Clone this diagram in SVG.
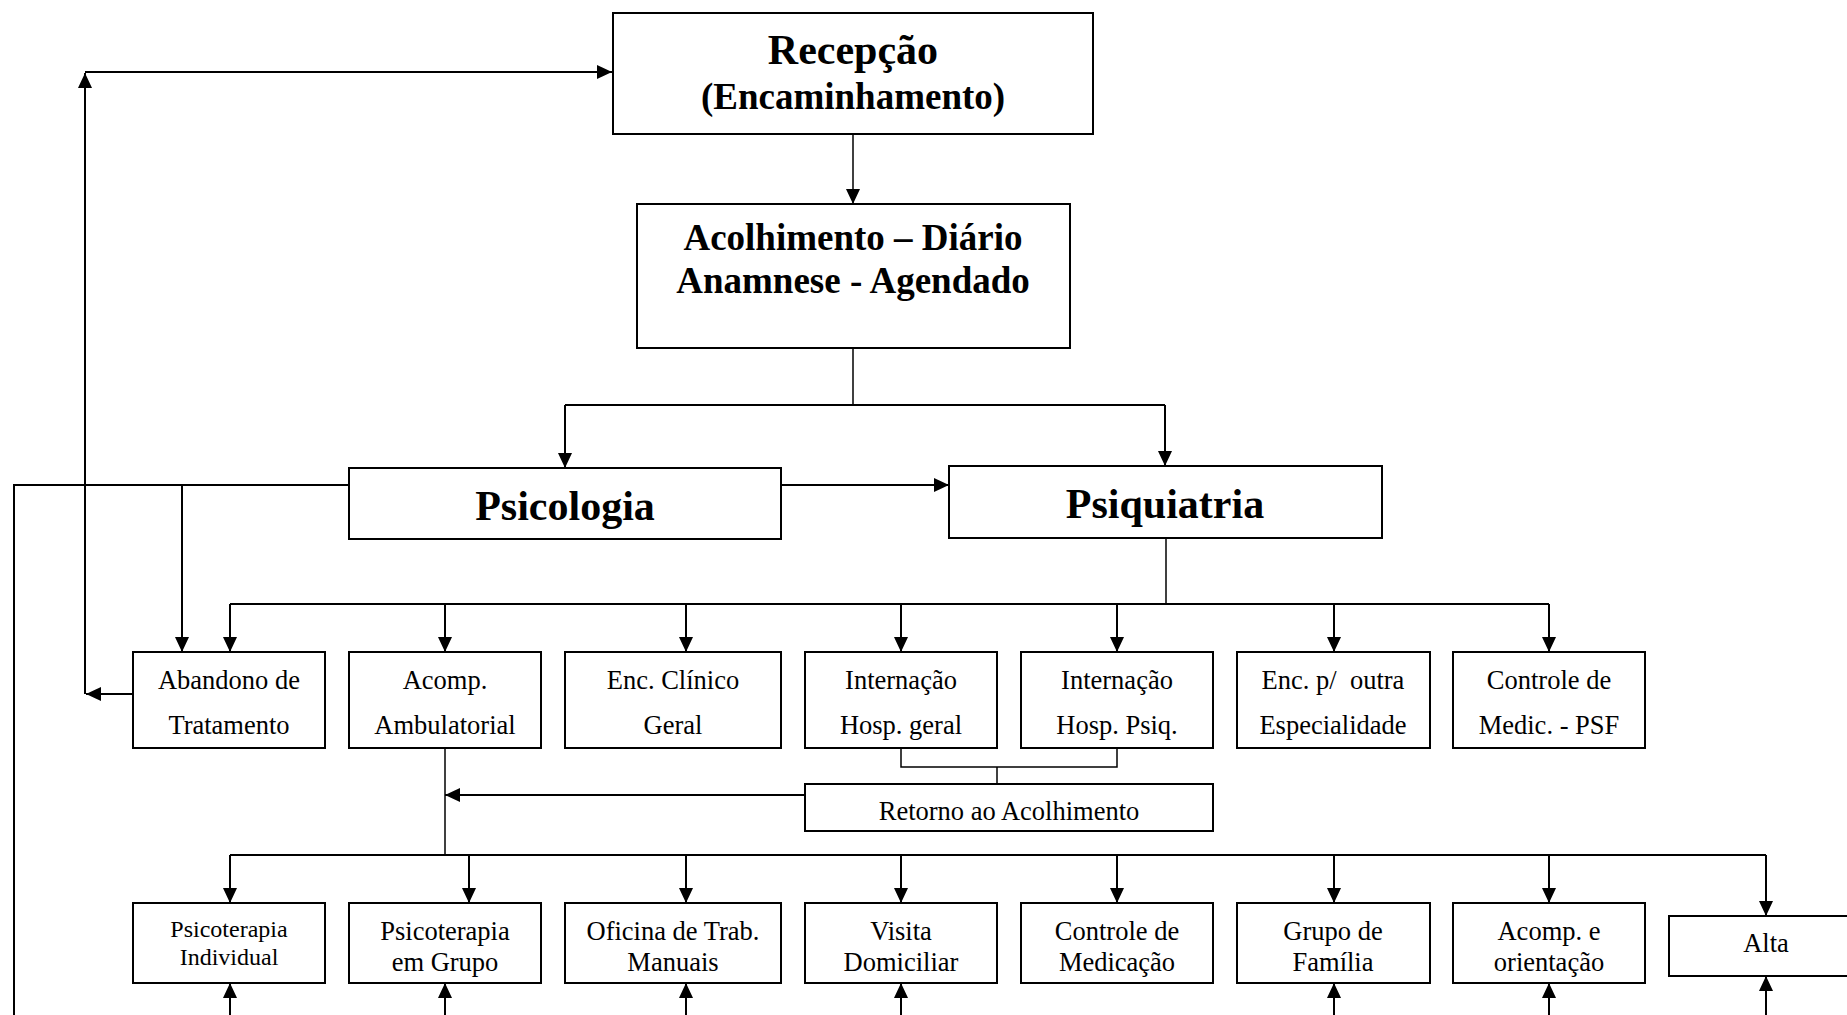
<svg xmlns="http://www.w3.org/2000/svg" width="1847" height="1015" viewBox="0 0 1847 1015">
<style>
.box{fill:#fff;stroke:#000;stroke-width:2}
.ln{fill:none;stroke:#000;stroke-width:2}
.thin{fill:none;stroke:#000;stroke-width:1.5}
.arr{marker-end:url(#ah)}
text{font-family:"Liberation Serif","Times New Roman",serif;fill:#000;text-anchor:middle}
.h1{font-size:42px;font-weight:bold}
.h2{font-size:37px;font-weight:bold}
.t{font-size:26.5px}
.s{font-size:24px}
</style>
<defs>
<marker id="ah" markerUnits="userSpaceOnUse" markerWidth="15" markerHeight="14" refX="15" refY="7" orient="auto">
<path d="M0,0 L15,7 L0,14 z" fill="#000"/>
</marker>
</defs>
<rect width="1847" height="1015" fill="#fff"/>
<g id="connectors">
<path class="ln arr" d="M85,72 H612"/>
<path class="ln arr" d="M85,694 V73"/>
<path class="ln arr" d="M133,694 H86"/>
<path class="thin arr" d="M853,134 V204"/>
<path class="thin" d="M853,348 V405"/>
<path class="ln" d="M565,405 H1165"/>
<path class="ln arr" d="M565,405 V468"/>
<path class="ln arr" d="M1165,405 V466"/>
<path class="ln arr" d="M781,485 H949"/>
<path class="ln" d="M14,1015 V485 H349"/>
<path class="ln arr" d="M182,485 V652"/>
<path class="thin" d="M1166,538 V604"/>
<path class="ln" d="M230,604 H1549"/>
<path class="ln arr" d="M230,604 V652"/>
<path class="ln arr" d="M445,604 V652"/>
<path class="ln arr" d="M686,604 V652"/>
<path class="ln arr" d="M901,604 V652"/>
<path class="ln arr" d="M1117,604 V652"/>
<path class="ln arr" d="M1334,604 V652"/>
<path class="ln arr" d="M1549,604 V652"/>
<path class="thin" d="M901,748 V767 H1117 V748"/>
<path class="thin" d="M997,767 V784"/>
<path class="ln arr" d="M805,795 H445"/>
<path class="thin" d="M445,748 V855"/>
<path class="ln" d="M230,855 H1766"/>
<path class="ln arr" d="M230,855 V903"/>
<path class="ln arr" d="M469,855 V903"/>
<path class="ln arr" d="M686,855 V903"/>
<path class="ln arr" d="M901,855 V903"/>
<path class="ln arr" d="M1117,855 V903"/>
<path class="ln arr" d="M1334,855 V903"/>
<path class="ln arr" d="M1549,855 V903"/>
<path class="ln arr" d="M1766,855 V916"/>
<path class="ln arr" d="M230,1015 V983"/>
<path class="ln arr" d="M445,1015 V983"/>
<path class="ln arr" d="M686,1015 V983"/>
<path class="ln arr" d="M901,1015 V983"/>
<path class="ln arr" d="M1334,1015 V983"/>
<path class="ln arr" d="M1549,1015 V983"/>
<path class="ln arr" d="M1766,1015 V976"/>
</g>
<g id="recepcao"><rect class="box" x="613" y="13" width="480" height="121"/>
<text class="h1" x="853" y="64">Recepção</text><text class="h2" x="853" y="109">(Encaminhamento)</text></g>
<g id="acolhimento"><rect class="box" x="637" y="204" width="433" height="144"/>
<text class="h2" x="853" y="250">Acolhimento – Diário</text><text class="h2" x="853" y="293">Anamnese - Agendado</text></g>
<g id="psicologia"><rect class="box" x="349" y="468" width="432" height="71"/><text class="h1" x="565" y="520">Psicologia</text></g>
<g id="psiquiatria"><rect class="box" x="949" y="466" width="433" height="72"/><text class="h1" x="1165" y="518">Psiquiatria</text></g>
<g id="abandono"><rect class="box" x="133" y="652" width="192" height="96"/><text class="t" x="229" y="689">Abandono de</text><text class="t" x="229" y="734">Tratamento</text></g>
<g id="acomp-amb"><rect class="box" x="349" y="652" width="192" height="96"/><text class="t" x="445" y="689">Acomp.</text><text class="t" x="445" y="734">Ambulatorial</text></g>
<g id="enc-clinico"><rect class="box" x="565" y="652" width="216" height="96"/><text class="t" x="673" y="689">Enc. Clínico</text><text class="t" x="673" y="734">Geral</text></g>
<g id="intern-geral"><rect class="box" x="805" y="652" width="192" height="96"/><text class="t" x="901" y="689">Internação</text><text class="t" x="901" y="734">Hosp. geral</text></g>
<g id="intern-psiq"><rect class="box" x="1021" y="652" width="192" height="96"/><text class="t" x="1117" y="689">Internação</text><text class="t" x="1117" y="734">Hosp. Psiq.</text></g>
<g id="enc-outra"><rect class="box" x="1237" y="652" width="193" height="96"/><text class="t" x="1333" y="689" xml:space="preserve">Enc. p/  outra</text><text class="t" x="1333" y="734">Especialidade</text></g>
<g id="controle-psf"><rect class="box" x="1453" y="652" width="192" height="96"/><text class="t" x="1549" y="689">Controle de</text><text class="t" x="1549" y="734">Medic. - PSF</text></g>
<g id="retorno"><rect class="box" x="805" y="784" width="408" height="47"/><text class="t" x="1009" y="820">Retorno ao Acolhimento</text></g>
<g id="psico-ind"><rect class="box" x="133" y="903" width="192" height="80"/><text class="s" x="229" y="937">Psicoterapia</text><text class="s" x="229" y="965">Individual</text></g>
<g id="psico-grupo"><rect class="box" x="349" y="903" width="192" height="80"/><text class="t" x="445" y="940">Psicoterapia</text><text class="t" x="445" y="971">em Grupo</text></g>
<g id="oficina"><rect class="box" x="565" y="903" width="216" height="80"/><text class="t" x="673" y="940">Oficina de Trab.</text><text class="t" x="673" y="971">Manuais</text></g>
<g id="visita"><rect class="box" x="805" y="903" width="192" height="80"/><text class="t" x="901" y="940">Visita</text><text class="t" x="901" y="971">Domiciliar</text></g>
<g id="controle-med"><rect class="box" x="1021" y="903" width="192" height="80"/><text class="t" x="1117" y="940">Controle de</text><text class="t" x="1117" y="971">Medicação</text></g>
<g id="grupo-familia"><rect class="box" x="1237" y="903" width="193" height="80"/><text class="t" x="1333" y="940">Grupo de</text><text class="t" x="1333" y="971">Família</text></g>
<g id="acomp-orient"><rect class="box" x="1453" y="903" width="192" height="80"/><text class="t" x="1549" y="940">Acomp. e</text><text class="t" x="1549" y="971">orientação</text></g>
<g id="alta"><rect class="box" x="1669" y="916" width="200" height="60"/><text class="t" x="1766" y="952">Alta</text></g>
</svg>
